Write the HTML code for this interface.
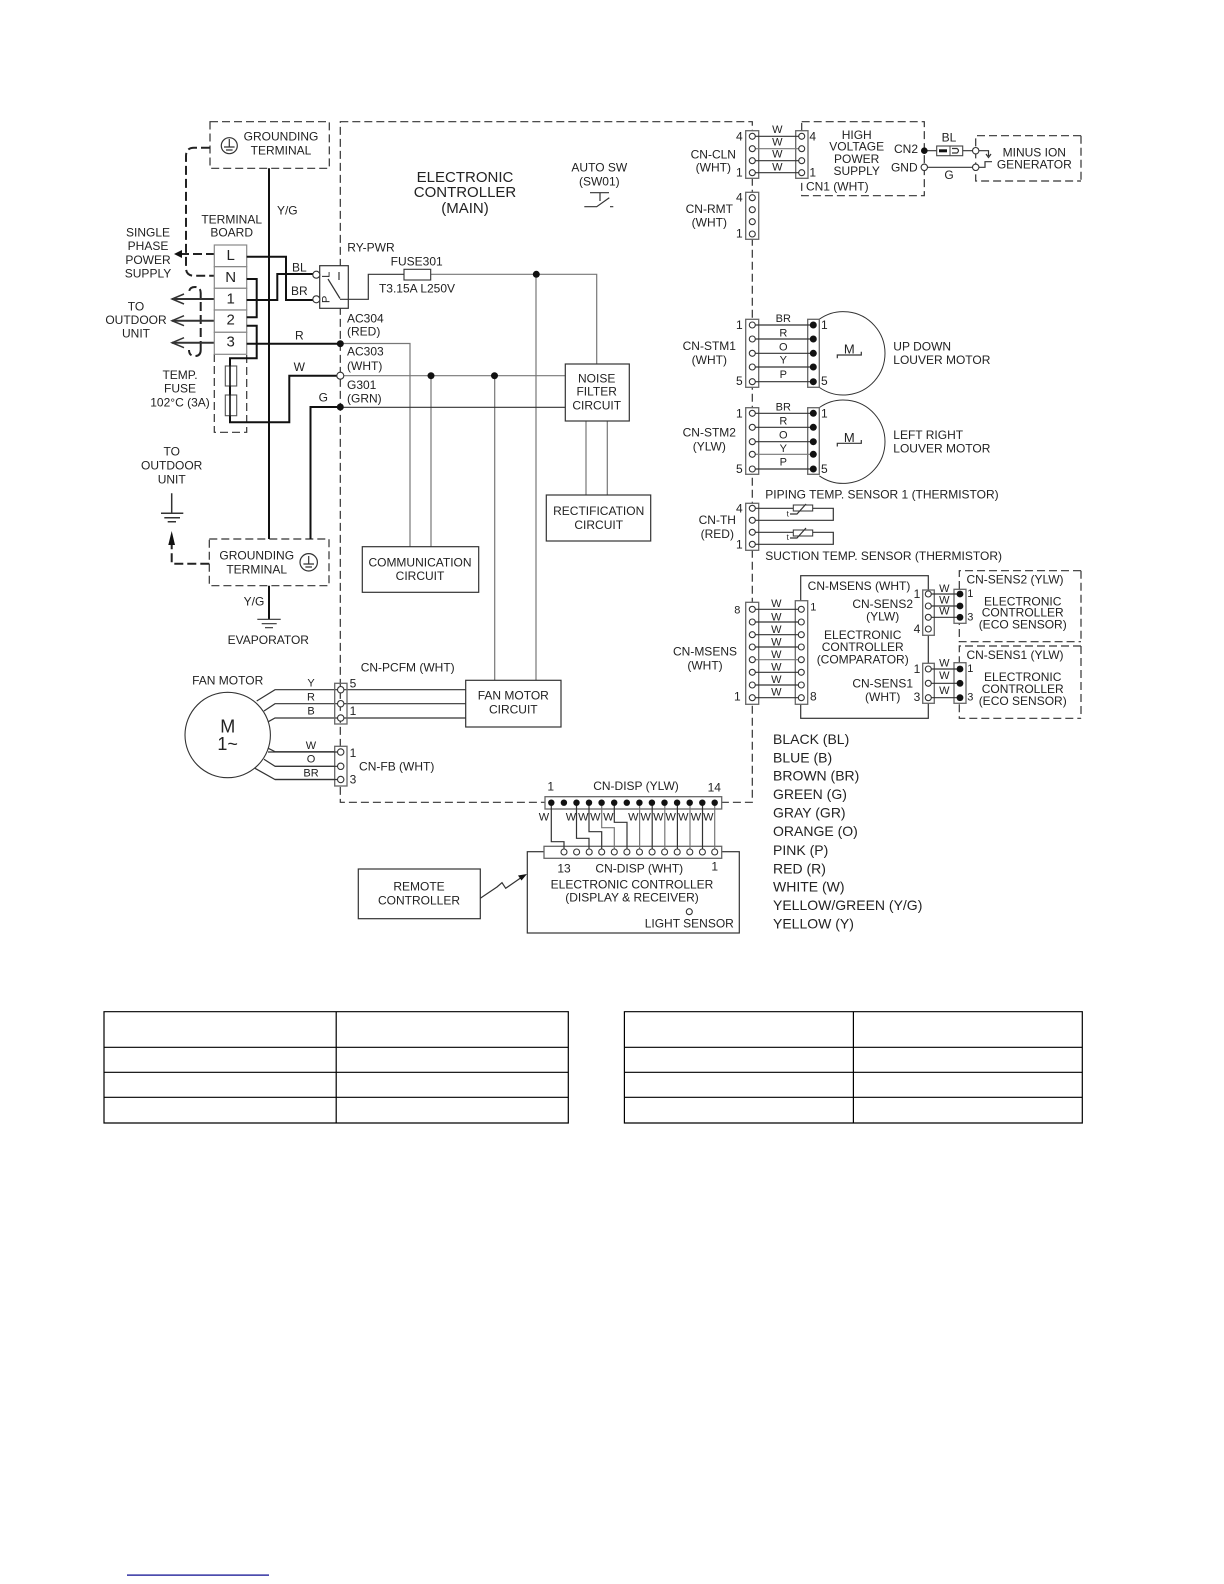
<!DOCTYPE html>
<html><head><meta charset="utf-8"><title>Wiring diagram</title>
<style>
html,body{margin:0;padding:0;background:#fff}
svg{display:block;filter:blur(.35px)}
text{font-family:"Liberation Sans",sans-serif;font-size:12px;fill:#222;text-anchor:middle;dominant-baseline:central}
.l{text-anchor:start}
.s{font-size:11px}
.t{font-size:15px}
.k{font-size:14px}
.dash{fill:none;stroke:#333;stroke-width:1.2;stroke-dasharray:8 4}
.hd{fill:none;stroke:#222;stroke-width:2;stroke-dasharray:9 4}
.th{fill:none;stroke:#111;stroke-width:2}
.m{fill:none;stroke:#333;stroke-width:1.2}
.w{fill:none;stroke:#777;stroke-width:1.2}
.box{fill:#fff;stroke:#333;stroke-width:1.2}
.con{fill:#fff;stroke:#666;stroke-width:1.3}
.o{fill:#fff;stroke:#333;stroke-width:1.1}
.d{fill:#111;stroke:none}
</style></head><body>
<svg width="1224" height="1584" viewBox="0 0 1224 1584" xmlns="http://www.w3.org/2000/svg">
<rect width="1224" height="1584" fill="#fff"/>

<!-- dashed frames -->
<path class="dash" d="M340.3 121.7H752.3V802.3H340.3Z"/>
<rect class="dash" x="210" y="121.7" width="119.3" height="46.6"/>
<rect class="dash" x="209.3" y="539" width="119.7" height="46.7"/>
<path class="dash" d="M801.7 121.7H924.3V195.7H801.7Z"/>
<path class="dash" d="M1081 135.7H975.7V181H1081"/>
<path class="dash" d="M214.3 354V432.3H246.7V354"/>
<path class="dash" d="M1081 570.7H959.3V641.7H1081"/>
<path class="dash" d="M1081 646H959.3V718.3H1081"/>
<path d="M1081 570.7V641.7M1081 646V718.3M1081 135.7V181" class="dash"/>

<!-- earth wires -->
<path class="th" d="M269 168.3V539M269 585.7V619M310.5 407H340.3M310.5 406V539"/>
<path class="hd" d="M210 147.7H194Q186 147.7 186 156V268Q186 275.7 194 275.7H215M215 254H180"/>
<path class="d" d="M174 254L182 250V258Z"/>
<path class="hd" d="M200.7 350V293Q200.7 287 195 287Q189 287 189 293M200.7 350Q200.7 356 195 356Q189 356 189 350"/>
<path class="m" style="stroke-width:2" d="M215 299H172M215 320.7H172M215 342.7H172"/>
<path class="m" style="stroke-width:1.5" d="M184 294L172 299L184 304M184 315.7L172 320.7L184 325.7M184 337.7L172 342.7L184 347.7"/>
<path class="hd" d="M209.3 563.7H171.7V543"/>
<path class="d" d="M171.7 531L175 545H168.3Z"/>

<!-- grounds -->
<circle cx="229.3" cy="145.7" r="8" fill="none" stroke="#333" stroke-width="1.2"/>
<path class="m" d="M229.3 139V147M224 147H234.6M226 150H232.6"/>
<circle cx="308.7" cy="562.3" r="8.7" fill="none" stroke="#333" stroke-width="1.2"/>
<path class="m" d="M308.7 556V564M303.4 564H314M305.4 567H312"/>
<path class="m" d="M257.3 619.3H280.7M261.7 623.7H276.7M265 627.7H273"/>
<path class="m" style="stroke-width:1.5" d="M171.7 493.3V513M161 513.3H183.3M164.3 517.7H180M167.7 521.7H176"/>

<!-- terminal board -->
<g fill="#fff" stroke="#888" stroke-width="1.2">
<rect x="214.3" y="245" width="32.4" height="21.7"/>
<rect x="214.3" y="266.7" width="32.4" height="21.6"/>
<rect x="214.3" y="288.3" width="32.4" height="21.7"/>
<rect x="214.3" y="310" width="32.4" height="22.3"/>
<rect x="214.3" y="332.3" width="32.4" height="22"/>
</g>
<g style="font-size:15px">
<text x="230.7" y="255.7" style="font-size:15px">L</text>
<text x="230.7" y="277.5" style="font-size:15px">N</text>
<text x="230.7" y="299" style="font-size:15px">1</text>
<text x="230.7" y="320" style="font-size:15px">2</text>
<text x="230.7" y="342" style="font-size:15px">3</text>
</g>
<path class="th" d="M246.7 256.7H286V300H316M246.7 279H256.7V317.3H246.7M246.7 300H277.3V274H316M246.7 325.7H256.7V358.3H230V422.3H289.3V375.7H340.3M246.7 343.7H340.3"/>
<g fill="#fff" stroke="#555" stroke-width="1.1">
<rect x="225.3" y="366" width="11.4" height="20"/>
<rect x="225.3" y="395" width="11.4" height="20.7"/>
</g>
<path class="th" d="M230 360V422" style="stroke-width:1.6"/>

<!-- relay -->
<rect class="box" x="319.7" y="265.7" width="28.6" height="42.6"/>
<circle class="o" cx="316.3" cy="274.7" r="3.5"/>
<circle class="o" cx="316.3" cy="299.3" r="3.5"/>
<text x="326.5" y="274.7" class="s" transform="rotate(-90 326.5 274.7)">L</text>
<text x="326.5" y="299.3" class="s" transform="rotate(-90 326.5 299.3)">P</text>
<path class="m" d="M328 279L340 298.5M339 272V280M340 299.3H368.3V274.3H404"/>
<path class="w" d="M430.7 274.3H596.7V364M536 274.3V680.3"/>
<rect x="404" y="269.3" width="26.7" height="10.7" fill="#fff" stroke="#333" stroke-width="1.1"/>

<!-- main wires -->
<path class="w" d="M340.3 343.5H410V546.7M340.3 375.7H565.3M431 375.7V546.7M494.7 375.7V680.3M586 421V495M607.3 421V495"/>
<path class="m" d="M340.3 407.3H565.3"/>
<circle class="d" cx="340.3" cy="343.7" r="3.5"/>
<circle class="o" cx="340.3" cy="375.7" r="3.5"/>
<circle class="d" cx="340.3" cy="407" r="3.5"/>
<circle class="d" cx="431" cy="375.7" r="3.5"/>
<circle class="d" cx="494.5" cy="375.7" r="3.5"/>
<circle class="d" cx="536.3" cy="274.3" r="3.5"/>

<rect class="box" x="565.3" y="364" width="64" height="57"/>
<rect class="box" x="546.3" y="495" width="104.4" height="46"/>
<rect class="box" x="362.3" y="546.7" width="116.4" height="45.6"/>
<rect class="box" x="465.7" y="680.3" width="95.3" height="46.7"/>

<!-- auto sw symbol -->
<path class="m" d="M584.3 206.7H596.7L609.3 197.7M590 192.7H609M600 192.7V201M610 206.7H613.3"/>

<!-- left labels -->
<text x="281" y="136.7">GROUNDING</text><text x="281" y="150.7">TERMINAL</text>
<text x="148" y="232.7">SINGLE</text><text x="148" y="246">PHASE</text><text x="148" y="260">POWER</text><text x="148" y="273.3">SUPPLY</text>
<text x="231.7" y="219.3">TERMINAL</text><text x="231.7" y="232.7">BOARD</text>
<text x="287.3" y="210.7">Y/G</text>
<text x="136" y="306.7">TO</text><text x="136" y="320">OUTDOOR</text><text x="136" y="333.3">UNIT</text>
<text x="180" y="375">TEMP.</text><text x="180" y="388.3">FUSE</text><text x="180" y="402.3">102°C (3A)</text>
<text x="299.3" y="267.7">BL</text><text x="299.3" y="291">BR</text><text x="299.3" y="335.7">R</text><text x="299.3" y="367">W</text><text x="323.3" y="397.3">G</text>
<text x="171.7" y="451.7">TO</text><text x="171.7" y="465.7">OUTDOOR</text><text x="171.7" y="479.3">UNIT</text>
<text x="256.7" y="555.7">GROUNDING</text><text x="256.7" y="569.3">TERMINAL</text>
<text x="254" y="601.7">Y/G</text>
<text x="268.3" y="640">EVAPORATOR</text>

<!-- centre labels -->
<text x="465" y="177.3" class="t">ELECTRONIC</text><text x="465" y="192.7" class="t">CONTROLLER</text><text x="465" y="208.3" class="t">(MAIN)</text>
<text x="599.3" y="167.3">AUTO SW</text><text x="599.3" y="181.7">(SW01)</text>
<text x="347.3" y="247.3" class="l">RY-PWR</text>
<text x="416.7" y="261.7">FUSE301</text>
<text x="417" y="288.3">T3.15A L250V</text>
<text x="347" y="318.3" class="l">AC304</text><text x="347" y="331.7" class="l">(RED)</text>
<text x="347" y="351.7" class="l">AC303</text><text x="347" y="366" class="l">(WHT)</text>
<text x="347" y="385" class="l">G301</text><text x="347" y="398.7" class="l">(GRN)</text>
<text x="596.7" y="378.3">NOISE</text><text x="596.7" y="391.7">FILTER</text><text x="596.7" y="405.7">CIRCUIT</text>
<text x="598.7" y="511">RECTIFICATION</text><text x="598.7" y="525">CIRCUIT</text>
<text x="420" y="562.7">COMMUNICATION</text><text x="420" y="576">CIRCUIT</text>
<text x="513.3" y="695.7">FAN MOTOR</text><text x="513.3" y="709.3">CIRCUIT</text>

<!-- fan motor -->
<circle cx="227.7" cy="735" r="42.7" fill="#fff" stroke="#333" stroke-width="1.1"/>
<text x="227.7" y="726.7" style="font-size:18px">M</text><text x="227.7" y="744" style="font-size:18px">1~</text>
<text x="227.7" y="680.3">FAN MOTOR</text>
<path class="m" d="M256.7 701L275 689.7H465.7M264 711L275 703.7H465.7M268.3 721.7L275 718H465.7M268.3 748.3L275 751.7H340.7M264 759.3L275 766.3H340.7M255 768.3L275 779.5H340.7"/>
<rect class="con" x="334.7" y="683.3" width="12.3" height="40.7" fill-opacity="0"/>
<rect class="con" x="334.7" y="746.3" width="12.3" height="39.7"/>
<g class="o">
<circle cx="340.7" cy="689.7" r="3.2"/><circle cx="340.7" cy="703.7" r="3.2"/><circle cx="340.7" cy="718" r="3.2"/>
</g>
<path class="m" d="M340.7 752H268M340.7 766.3H275M340.7 779.5H275"/>
<g class="o"><circle cx="340.7" cy="752" r="3.2"/><circle cx="340.7" cy="766.3" r="3.2"/><circle cx="340.7" cy="779.5" r="3.2"/></g>
<text x="311" y="683.3" class="s">Y</text><text x="311" y="697.3" class="s">R</text><text x="311" y="711.7" class="s">B</text>
<text x="311" y="746" class="s">W</text><text x="311" y="759.3" class="s">O</text><text x="311" y="773.3" class="s">BR</text>
<text x="407.7" y="667.7">CN-PCFM (WHT)</text>
<text x="353" y="683.7">5</text><text x="353" y="711">1</text><text x="353" y="753">1</text><text x="353" y="779.3">3</text>
<text x="396.7" y="766.7">CN-FB (WHT)</text>

<!-- CN-CLN / HV -->
<rect class="con" x="745.7" y="130.7" width="13" height="47.6"/>
<rect class="con" x="795.7" y="130.7" width="12.3" height="47.6"/>
<path class="m" d="M752.3 136.3H801.7M752.3 160.7H801.7M752.3 172.7H801.7"/>
<path class="w" d="M752.3 148.7H801.7"/>
<g class="o">
<circle cx="752.3" cy="136.3" r="3"/><circle cx="752.3" cy="148.7" r="3"/><circle cx="752.3" cy="160.7" r="3"/><circle cx="752.3" cy="172.7" r="3"/>
<circle cx="801.7" cy="136.3" r="3"/><circle cx="801.7" cy="148.7" r="3"/><circle cx="801.7" cy="160.7" r="3"/><circle cx="801.7" cy="172.7" r="3"/>
</g>
<text x="777.3" y="130" class="s">W</text><text x="777.3" y="142.3" class="s">W</text><text x="777.3" y="154.7" class="s">W</text><text x="777.3" y="167.3" class="s">W</text>
<text x="739.3" y="136.7">4</text><text x="739.3" y="172.7">1</text><text x="812.7" y="136.7">4</text><text x="812.7" y="172.3">1</text>
<text x="713.3" y="154.7">CN-CLN</text><text x="713.3" y="167.3">(WHT)</text>
<text x="856.7" y="135">HIGH</text><text x="856.7" y="146.7">VOLTAGE</text><text x="856.7" y="159">POWER</text><text x="856.7" y="171">SUPPLY</text>
<text x="837.3" y="186.7">CN1 (WHT)</text>
<text x="906" y="149">CN2</text><text x="904.3" y="167.3">GND</text>
<path class="m" d="M924.3 150.7H975.7M924.3 167.3H975.7M978 150.7H988.5V156M986 154L988.5 157.5L991 154M978 167.3H985V161.7H992"/>
<circle class="d" cx="924.3" cy="150.7" r="3.3"/><circle class="o" cx="924.3" cy="167.3" r="3.2"/>
<circle class="o" cx="975.7" cy="150.7" r="3.2"/><circle class="o" cx="975.7" cy="167.3" r="3.2"/>
<rect x="936.7" y="146" width="26" height="9.7" fill="#fff" stroke="#444" stroke-width="1.1"/>
<path d="M950 146V155.7" stroke="#444" stroke-width="1"/>
<rect x="939" y="149.3" width="8" height="3" fill="#111"/>
<path class="m" d="M952 148.5H957Q960 150.7 957 153H952"/>
<text x="949" y="137.3">BL</text><text x="949" y="175">G</text>
<text x="1034.3" y="152.7">MINUS ION</text><text x="1034.3" y="164.3">GENERATOR</text>

<!-- CN-RMT -->
<rect class="con" x="745.7" y="192.3" width="13" height="47"/>
<g class="o"><circle cx="752.3" cy="197.7" r="3"/><circle cx="752.3" cy="209.7" r="3"/><circle cx="752.3" cy="221.7" r="3"/><circle cx="752.3" cy="234" r="3"/></g>
<text x="739.3" y="197.7">4</text><text x="739.3" y="233.5">1</text>
<text x="709.3" y="209">CN-RMT</text><text x="709.3" y="222.3">(WHT)</text>

<!-- STM1 -->
<path class="m" d="M819.3 319.2A41.7 41.7 0 1 1 819.3 387.4" style="stroke-width:1"/>
<rect class="con" x="745.7" y="319.3" width="13" height="68"/>
<rect class="con" x="807.7" y="319.3" width="11.6" height="68"/>
<path class="m" d="M752.3 325H813.3M752.3 339H813.3M752.3 353.3H813.3M752.3 367H813.3M752.3 381.7H813.3"/>
<g class="o"><circle cx="752.3" cy="325" r="3"/><circle cx="752.3" cy="339" r="3"/><circle cx="752.3" cy="353.3" r="3"/><circle cx="752.3" cy="367" r="3"/><circle cx="752.3" cy="381.7" r="3"/></g>
<g class="d"><circle cx="813.3" cy="325" r="3.5"/><circle cx="813.3" cy="339" r="3.5"/><circle cx="813.3" cy="353.3" r="3.5"/><circle cx="813.3" cy="367" r="3.5"/><circle cx="813.3" cy="381.7" r="3.5"/></g>
<text x="783.3" y="319" class="s">BR</text><text x="783.3" y="333.3" class="s">R</text><text x="783.3" y="347.3" class="s">O</text><text x="783.3" y="360.7" class="s">Y</text><text x="783.3" y="375" class="s">P</text>
<text x="739.3" y="325">1</text><text x="739.3" y="381">5</text><text x="824.3" y="325">1</text><text x="824.3" y="381">5</text>
<text x="709.3" y="346">CN-STM1</text><text x="709.3" y="360">(WHT)</text>
<text x="849.3" y="349" style="font-size:13px">M</text>
<path class="m" d="M837.3 358.3V355H861.3V351.7"/>
<text x="893.3" y="346.7" class="l">UP DOWN</text><text x="893.3" y="360" class="l">LOUVER MOTOR</text>

<!-- STM2 -->
<path class="m" d="M819.3 407.6A41.7 41.7 0 1 1 819.3 475.8" style="stroke-width:1"/>
<rect class="con" x="745.7" y="407.7" width="13" height="66.6"/>
<rect class="con" x="807.7" y="407.7" width="11.6" height="66.6"/>
<path class="m" d="M752.3 413.3H813.3M752.3 427.3H813.3M752.3 441.7H813.3M752.3 469H813.3"/>
<path class="w" d="M752.3 454.3H813.3"/>
<g class="o"><circle cx="752.3" cy="413.3" r="3"/><circle cx="752.3" cy="427.3" r="3"/><circle cx="752.3" cy="441.7" r="3"/><circle cx="752.3" cy="454.3" r="3"/><circle cx="752.3" cy="469" r="3"/></g>
<g class="d"><circle cx="813.3" cy="413.3" r="3.5"/><circle cx="813.3" cy="427.3" r="3.5"/><circle cx="813.3" cy="441.7" r="3.5"/><circle cx="813.3" cy="454.3" r="3.5"/><circle cx="813.3" cy="469" r="3.5"/></g>
<text x="783.3" y="407.7" class="s">BR</text><text x="783.3" y="421.7" class="s">R</text><text x="783.3" y="435.7" class="s">O</text><text x="783.3" y="449" class="s">Y</text><text x="783.3" y="462.3" class="s">P</text>
<text x="739.3" y="413.3">1</text><text x="739.3" y="469">5</text><text x="824.3" y="413.3">1</text><text x="824.3" y="469">5</text>
<text x="709.3" y="432.7">CN-STM2</text><text x="709.3" y="446.7">(YLW)</text>
<text x="849.3" y="437.3" style="font-size:13px">M</text>
<path class="m" d="M837.3 446.5V443.3H861.3V440"/>
<text x="893.3" y="435" class="l">LEFT RIGHT</text><text x="893.3" y="448.3" class="l">LOUVER MOTOR</text>

<!-- CN-TH -->
<text x="765.3" y="494.3" class="l">PIPING TEMP. SENSOR 1 (THERMISTOR)</text>
<text x="765.3" y="556" class="l">SUCTION TEMP. SENSOR (THERMISTOR)</text>
<rect class="con" x="745.7" y="503.3" width="13" height="47"/>
<path class="m" d="M752.3 508.3H833.3V520.3H752.3M752.3 532.3H833.3V544.3H752.3"/>
<g class="o"><circle cx="752.3" cy="508.3" r="3"/><circle cx="752.3" cy="520.3" r="3"/><circle cx="752.3" cy="532.3" r="3"/><circle cx="752.3" cy="544.3" r="3"/></g>
<rect x="793.3" y="505" width="19.4" height="6" fill="#fff" stroke="#333"/>
<rect x="793.3" y="530" width="19.4" height="6" fill="#fff" stroke="#333"/>
<path class="m" d="M790 514H797L806 504M790 538H797L806 528"/>
<text x="787.7" y="514" style="font-size:8px">t</text><text x="787.7" y="537.7" style="font-size:8px">t</text>
<text x="739.3" y="508.3">4</text><text x="739.3" y="544.3">1</text>
<text x="717.3" y="520">CN-TH</text><text x="717.3" y="534">(RED)</text>

<!-- MSENS -->
<rect x="800.7" y="575.7" width="127.6" height="142.6" fill="#fff" stroke="#333" stroke-width="1.2"/>
<rect class="con" x="745.7" y="602.3" width="13" height="102"/>
<rect class="con" x="795.3" y="600.7" width="12.4" height="103.6"/>
<path class="m" d="M752.3 609.3H801.3M752.3 622H801.3M752.3 634.7H801.3M752.3 647H801.3M752.3 672.3H801.3M752.3 685H801.3M752.3 697.7H801.3"/>
<path class="w" d="M752.3 659.7H801.3"/>
<g class="o">
<circle cx="752.3" cy="609.3" r="3"/><circle cx="752.3" cy="622" r="3"/><circle cx="752.3" cy="634.7" r="3"/><circle cx="752.3" cy="647" r="3"/><circle cx="752.3" cy="659.7" r="3"/><circle cx="752.3" cy="672.3" r="3"/><circle cx="752.3" cy="685" r="3"/><circle cx="752.3" cy="697.7" r="3"/>
<circle cx="801.3" cy="609.3" r="3"/><circle cx="801.3" cy="622" r="3"/><circle cx="801.3" cy="634.7" r="3"/><circle cx="801.3" cy="647" r="3"/><circle cx="801.3" cy="659.7" r="3"/><circle cx="801.3" cy="672.3" r="3"/><circle cx="801.3" cy="685" r="3"/><circle cx="801.3" cy="697.7" r="3"/>
</g>
<text x="776.3" y="604" class="s">W</text><text x="776.3" y="617.3" class="s">W</text><text x="776.3" y="630" class="s">W</text><text x="776.3" y="642.7" class="s">W</text><text x="776.3" y="655" class="s">W</text><text x="776.3" y="667.3" class="s">W</text><text x="776.3" y="680" class="s">W</text><text x="776.3" y="692.7" class="s">W</text>
<text x="737.3" y="610.7" class="s">8</text><text x="737.3" y="696.7">1</text><text x="813.3" y="607.7" class="s">1</text><text x="813.3" y="696.7">8</text>
<text x="705" y="651.7">CN-MSENS</text><text x="705" y="665.7">(WHT)</text>
<text x="859" y="586">CN-MSENS (WHT)</text>
<text x="882.7" y="604">CN-SENS2</text><text x="882.7" y="616.7">(YLW)</text>
<text x="862.7" y="635">ELECTRONIC</text><text x="862.7" y="647">CONTROLLER</text><text x="862.7" y="659.3">(COMPARATOR)</text>
<text x="882.7" y="683.7">CN-SENS1</text><text x="882.7" y="697">(WHT)</text>

<!-- SENS2 -->
<rect class="con" x="922.7" y="590" width="11.6" height="45.3"/>
<rect class="con" x="954" y="589.3" width="12" height="34"/>
<path class="m" d="M928.3 594H960M928.3 606H960M928.3 617.3H960"/>
<g class="o"><circle cx="928.3" cy="594" r="3"/><circle cx="928.3" cy="606" r="3"/><circle cx="928.3" cy="617.3" r="3"/><circle cx="928.3" cy="629" r="3"/></g>
<g class="d"><circle cx="960" cy="594" r="3.4"/><circle cx="960" cy="606" r="3.4"/><circle cx="960" cy="617.3" r="3.4"/></g>
<text x="944.3" y="589" class="s">W</text><text x="944.3" y="600.7" class="s">W</text><text x="944.3" y="611.7" class="s">W</text>
<text x="917" y="594">1</text><text x="917" y="629">4</text><text x="970.3" y="594" class="s">1</text><text x="970.3" y="617.3" class="s">3</text>
<text x="1015" y="579.3">CN-SENS2 (YLW)</text>
<text x="1022.7" y="601.7">ELECTRONIC</text><text x="1022.7" y="612.7">CONTROLLER</text><text x="1022.7" y="624.3">(ECO SENSOR)</text>

<!-- SENS1 -->
<rect class="con" x="922.7" y="663.3" width="11.6" height="40"/>
<rect class="con" x="954" y="662.7" width="12" height="40.6"/>
<path class="m" d="M928.3 669H960M928.3 683.3H960M928.3 697.7H960"/>
<g class="o"><circle cx="928.3" cy="669" r="3"/><circle cx="928.3" cy="683.3" r="3"/><circle cx="928.3" cy="697.7" r="3"/></g>
<g class="d"><circle cx="960" cy="669" r="3.4"/><circle cx="960" cy="683.3" r="3.4"/><circle cx="960" cy="697.7" r="3.4"/></g>
<text x="944.3" y="663.3" class="s">W</text><text x="944.3" y="676" class="s">W</text><text x="944.3" y="691" class="s">W</text>
<text x="917" y="669">1</text><text x="917" y="697">3</text><text x="970.3" y="669" class="s">1</text><text x="970.3" y="697.7" class="s">3</text>
<text x="1015" y="655">CN-SENS1 (YLW)</text>
<text x="1022.7" y="677">ELECTRONIC</text><text x="1022.7" y="689">CONTROLLER</text><text x="1022.7" y="701">(ECO SENSOR)</text>

<!-- CN-DISP -->
<rect x="527.3" y="851.7" width="212" height="81.3" fill="#fff" stroke="#333" stroke-width="1.2"/>
<rect class="con" x="545" y="796.7" width="176.7" height="12.3"/>
<rect class="con" x="544" y="846.3" width="177.7" height="12"/>
<path class="m" d="M551.3 802.7V841.7H564V852M576.5 802.7V838.3H589V852M589 802.7V831.7H601.7V852M614.3 802.7V822.3H627V852"/>
<path class="w" d="M601.7 802.7V827.7H614.3V852"/>
<path class="w" d="M639.6 802.7V852M664.8 802.7V852M690 802.7V852M714.7 802.7V852"/>
<path class="m" d="M652.2 802.7V852M677.4 802.7V852M702.5 802.7V852"/>
<g class="d">
<circle cx="551.3" cy="802.7" r="3.2"/><circle cx="563.9" cy="802.7" r="3.2"/><circle cx="576.5" cy="802.7" r="3.2"/><circle cx="589" cy="802.7" r="3.2"/><circle cx="601.6" cy="802.7" r="3.2"/><circle cx="614.2" cy="802.7" r="3.2"/><circle cx="626.8" cy="802.7" r="3.2"/><circle cx="639.4" cy="802.7" r="3.2"/><circle cx="651.9" cy="802.7" r="3.2"/><circle cx="664.5" cy="802.7" r="3.2"/><circle cx="677.1" cy="802.7" r="3.2"/><circle cx="689.7" cy="802.7" r="3.2"/><circle cx="702.3" cy="802.7" r="3.2"/><circle cx="714.7" cy="802.7" r="3.2"/>
</g>
<g class="o">
<circle cx="564" cy="852" r="3"/><circle cx="576.6" cy="852" r="3"/><circle cx="589.2" cy="852" r="3"/><circle cx="601.7" cy="852" r="3"/><circle cx="614.3" cy="852" r="3"/><circle cx="626.9" cy="852" r="3"/><circle cx="639.5" cy="852" r="3"/><circle cx="652.1" cy="852" r="3"/><circle cx="664.6" cy="852" r="3"/><circle cx="677.2" cy="852" r="3"/><circle cx="689.8" cy="852" r="3"/><circle cx="702.4" cy="852" r="3"/><circle cx="714.7" cy="852" r="3"/>
</g>
<text x="544" y="817.3" class="s">W</text><text x="571" y="817.3" class="s">W</text><text x="583.3" y="817.3" class="s">W</text><text x="595.3" y="817.3" class="s">W</text><text x="608.3" y="817.3" class="s">W</text><text x="633.3" y="817.3" class="s">W</text><text x="645.7" y="817.3" class="s">W</text><text x="658.3" y="817.3" class="s">W</text><text x="670.7" y="817.3" class="s">W</text><text x="683.3" y="817.3" class="s">W</text><text x="696" y="817.3" class="s">W</text><text x="708.3" y="817.3" class="s">W</text>
<text x="550.7" y="786.7">1</text><text x="636" y="786">CN-DISP (YLW)</text><text x="714.3" y="787.3">14</text>
<text x="564" y="868.3">13</text><text x="639.3" y="868.3">CN-DISP (WHT)</text><text x="714.7" y="866.7">1</text>
<text x="632" y="884.3">ELECTRONIC CONTROLLER</text><text x="632" y="897.3">(DISPLAY &amp; RECEIVER)</text>
<circle class="o" cx="689.3" cy="911.7" r="3"/>
<text x="689.3" y="923.3">LIGHT SENSOR</text>

<rect class="box" x="358.3" y="869" width="122" height="49.7"/>
<text x="419" y="886.3">REMOTE</text><text x="419" y="900.3">CONTROLLER</text>
<path class="m" d="M480.3 898.3L497 887L502 882.7L505.7 888.3L522 877"/>
<path class="d" d="M527 874L518 875.5L521.5 880.5Z"/>

<!-- legend -->
<text x="773" y="739" class="l k">BLACK (BL)</text>
<text x="773" y="757.7" class="l k">BLUE (B)</text>
<text x="773" y="775.7" class="l k">BROWN (BR)</text>
<text x="773" y="794" class="l k">GREEN (G)</text>
<text x="773" y="812.3" class="l k">GRAY (GR)</text>
<text x="773" y="831" class="l k">ORANGE (O)</text>
<text x="773" y="850" class="l k">PINK (P)</text>
<text x="773" y="868.3" class="l k">RED (R)</text>
<text x="773" y="886.7" class="l k">WHITE (W)</text>
<text x="773" y="905" class="l k">YELLOW/GREEN (Y/G)</text>
<text x="773" y="923.3" class="l k">YELLOW (Y)</text>

<!-- tables -->
<g fill="none" stroke="#000" stroke-width="1.2">
<path d="M104 1011.7H568.3V1123H104ZM336.2 1011.7V1123M104 1047.3H568.3M104 1072.3H568.3M104 1097.3H568.3"/>
<path d="M624.4 1011.7H1082.3V1123H624.4ZM853.4 1011.7V1123M624.4 1047.3H1082.3M624.4 1072.3H1082.3M624.4 1097.3H1082.3"/>
</g>
<rect x="127" y="1574.5" width="142" height="1.2" fill="#00008b"/>
</svg>
</body></html>
